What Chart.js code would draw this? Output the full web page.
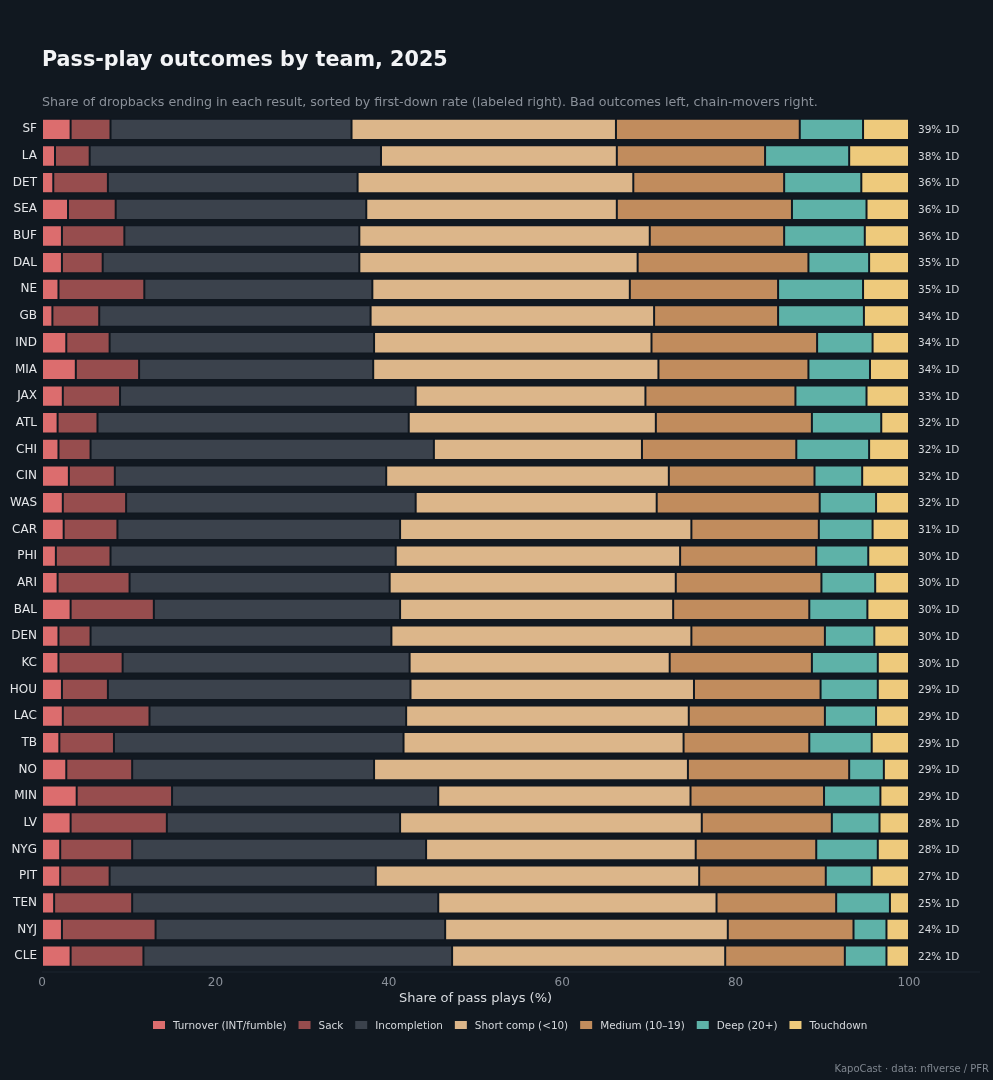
<!DOCTYPE html>
<html>
<head>
<meta charset="utf-8">
<script src="https://cdn.jsdelivr.net/npm/chart.js@4.4.1/dist/chart.umd.min.js"></script>
<style>
  html, body { margin: 0; padding: 0; background: #111820; }
  canvas { display: block; }
</style>
</head>
<body>
<canvas id="c" width="993" height="1080"></canvas>
<script>
const teams = ["SF","LA","DET","SEA","BUF","DAL","NE","GB","IND","MIA","JAX","ATL","CHI","CIN","WAS","CAR","PHI","ARI","BAL","DEN","KC","HOU","LAC","TB","NO","MIN","LV","NYG","PIT","TEN","NYJ","CLE"];
const firstDownRate = [39,38,36,36,36,35,35,34,34,34,33,32,32,32,32,31,30,30,30,30,30,29,29,29,29,29,28,28,27,25,24,22];
const turnover     = [3.3,1.5,1.3,3.0,2.3,2.3,1.9,1.2,2.8,3.9,2.4,1.8,1.9,3.1,2.4,2.5,1.6,1.8,3.3,1.9,1.9,2.3,2.4,2.0,2.8,4.0,3.3,2.1,2.1,1.4,2.3,3.3];
const sack         = [4.6,4.0,6.3,5.5,7.2,4.7,9.9,5.4,5.0,7.3,6.6,4.6,3.7,5.3,7.3,6.2,6.3,8.3,9.6,3.7,7.4,5.3,10.0,6.3,7.6,11.0,11.1,8.3,5.7,9.0,10.8,8.4];
const incompletion = [27.8,33.6,28.8,28.9,27.1,29.6,26.3,31.3,30.5,27.0,34.1,35.9,39.6,31.3,33.4,32.6,32.9,30.0,28.4,34.7,33.1,34.9,29.6,33.4,27.9,30.7,26.9,33.9,30.7,35.3,33.4,35.6];
const shortComp    = [30.5,27.2,31.8,28.9,33.5,32.1,29.7,32.7,32.0,32.9,26.5,28.5,24.0,32.6,27.8,33.6,32.8,33.0,31.5,34.6,30.0,32.7,32.6,32.3,36.2,29.1,34.8,31.1,37.3,32.1,32.6,31.5];
const medium       = [21.2,17.1,17.4,20.2,15.5,19.7,17.1,14.3,19.1,17.3,17.3,18.0,17.8,16.8,18.8,14.7,15.7,16.8,15.7,15.4,16.4,14.6,15.7,14.5,18.6,15.4,15.0,13.9,14.6,13.8,14.5,13.8];
const deep         = [7.3,9.7,8.9,8.6,9.3,7.0,9.8,9.9,6.4,7.1,8.2,8.0,8.4,5.5,6.5,6.2,6.0,6.2,6.7,5.7,7.6,6.6,5.9,7.2,4.0,6.5,5.5,7.1,5.3,6.2,3.8,4.8];
const touchdown    = [5.3,6.9,5.5,4.9,5.1,4.6,5.3,5.2,4.2,4.5,4.9,3.2,4.6,5.4,3.8,4.2,4.7,3.9,4.8,4.0,3.6,3.6,3.8,4.3,2.9,3.3,3.4,3.6,4.3,2.2,2.6,2.6];
const xTicks = [0,20,40,60,80,100];

const seriesNames  = ["Turnover (INT/fumble)","Sack","Incompletion","Short comp (<10)","Medium (10–19)","Deep (20+)","Touchdown"];
const seriesValues = [turnover, sack, incompletion, shortComp, medium, deep, touchdown];
const seriesColors = ["#dc6d6e","#974d4e","#3b424c","#dcb68a","#c18c5d","#5eb2a8","#eeca7c"];

const FONT = "'DejaVu Sans', sans-serif";

const overlay = {
  id: 'overlay',
  afterDraw(chart) {
    const ctx = chart.ctx;
    const ca = chart.chartArea;
    const y = chart.scales.y;
    ctx.save();
    // title + subtitle
    ctx.textBaseline = 'middle';
    ctx.textAlign = 'left';
    ctx.fillStyle = '#f3f4f6';
    ctx.font = "bold 20.7px " + FONT;
    ctx.fillText("Pass-play outcomes by team, 2025", 42, 61);
    ctx.fillStyle = '#8a9099';
    ctx.font = "12.7px " + FONT;
    ctx.fillText("Share of dropbacks ending in each result, sorted by first-down rate (labeled right). Bad outcomes left, chain-movers right.", 42, 103);
    // right labels
    ctx.fillStyle = '#d5d8dc';
    ctx.font = "10.5px " + FONT;
    teams.forEach((t, i) => {
      ctx.fillText(firstDownRate[i] + "% 1D", ca.right + 9, y.getPixelForValue(i) + 1);
    });
    // faint axis line
    ctx.strokeStyle = '#1d252e';
    ctx.lineWidth = 1;
    ctx.beginPath();
    ctx.moveTo(ca.left, ca.bottom + 2.5);
    ctx.lineTo(980, ca.bottom + 2.5);
    ctx.stroke();
    // legend
    ctx.font = "10.4px " + FONT;
    let lx = 153;
    const ly = 1025;
    chart.data.datasets.forEach(ds => {
      ctx.fillStyle = ds.backgroundColor;
      ctx.fillRect(lx, ly - 4, 12, 8);
      ctx.fillStyle = '#d5d8dc';
      ctx.fillText(ds.label, lx + 20, ly + 1);
      lx += 20 + ctx.measureText(ds.label).width + 12;
    });
    // footer
    ctx.textAlign = 'right';
    ctx.fillStyle = '#7f868f';
    ctx.font = "10px " + FONT;
    ctx.fillText("KapoCast · data: nflverse / PFR", 989, 1069);
    ctx.restore();
  }
};

new Chart(document.getElementById('c'), {
  type: 'bar',
  data: {
    labels: teams,
    datasets: seriesNames.map((name, k) => ({
      label: name,
      data: seriesValues[k],
      backgroundColor: seriesColors[k],
      borderColor: 'rgba(17,24,32,0.55)',
      borderWidth: 1,
      borderSkipped: false,
      barPercentage: 0.8,
      categoryPercentage: 1.0
    }))
  },
  options: {
    indexAxis: 'y',
    responsive: false,
    animation: false,
    devicePixelRatio: 1,
    layout: { padding: { top: 116, left: 0, right: 84, bottom: 69.5 } },
    plugins: {
      legend: { display: false },
      tooltip: { enabled: false },
      title: { display: false }
    },
    scales: {
      x: {
        stacked: true,
        min: 0, max: 100,
        afterBuildTicks(scale) { scale.ticks = xTicks.map(v => ({ value: v })); },
        afterFit(scale) { scale.height = 41; },
        grid: { display: false, drawTicks: false },
        border: { display: false },
        ticks: { color: '#8a9099', font: { family: FONT, size: 12 }, padding: 6 },
        title: { display: true, text: 'Share of pass plays (%)', color: '#d8dbdf', font: { family: FONT, size: 13 } }
      },
      y: {
        stacked: true,
        afterFit(scale) { scale.width = 42; },
        grid: { display: false, drawTicks: false },
        border: { display: false },
        ticks: { color: '#e4e6e9', font: { family: FONT, size: 12 }, padding: 5, autoSkip: false }
      }
    }
  },
  plugins: [overlay]
});
</script>
</body>
</html>
